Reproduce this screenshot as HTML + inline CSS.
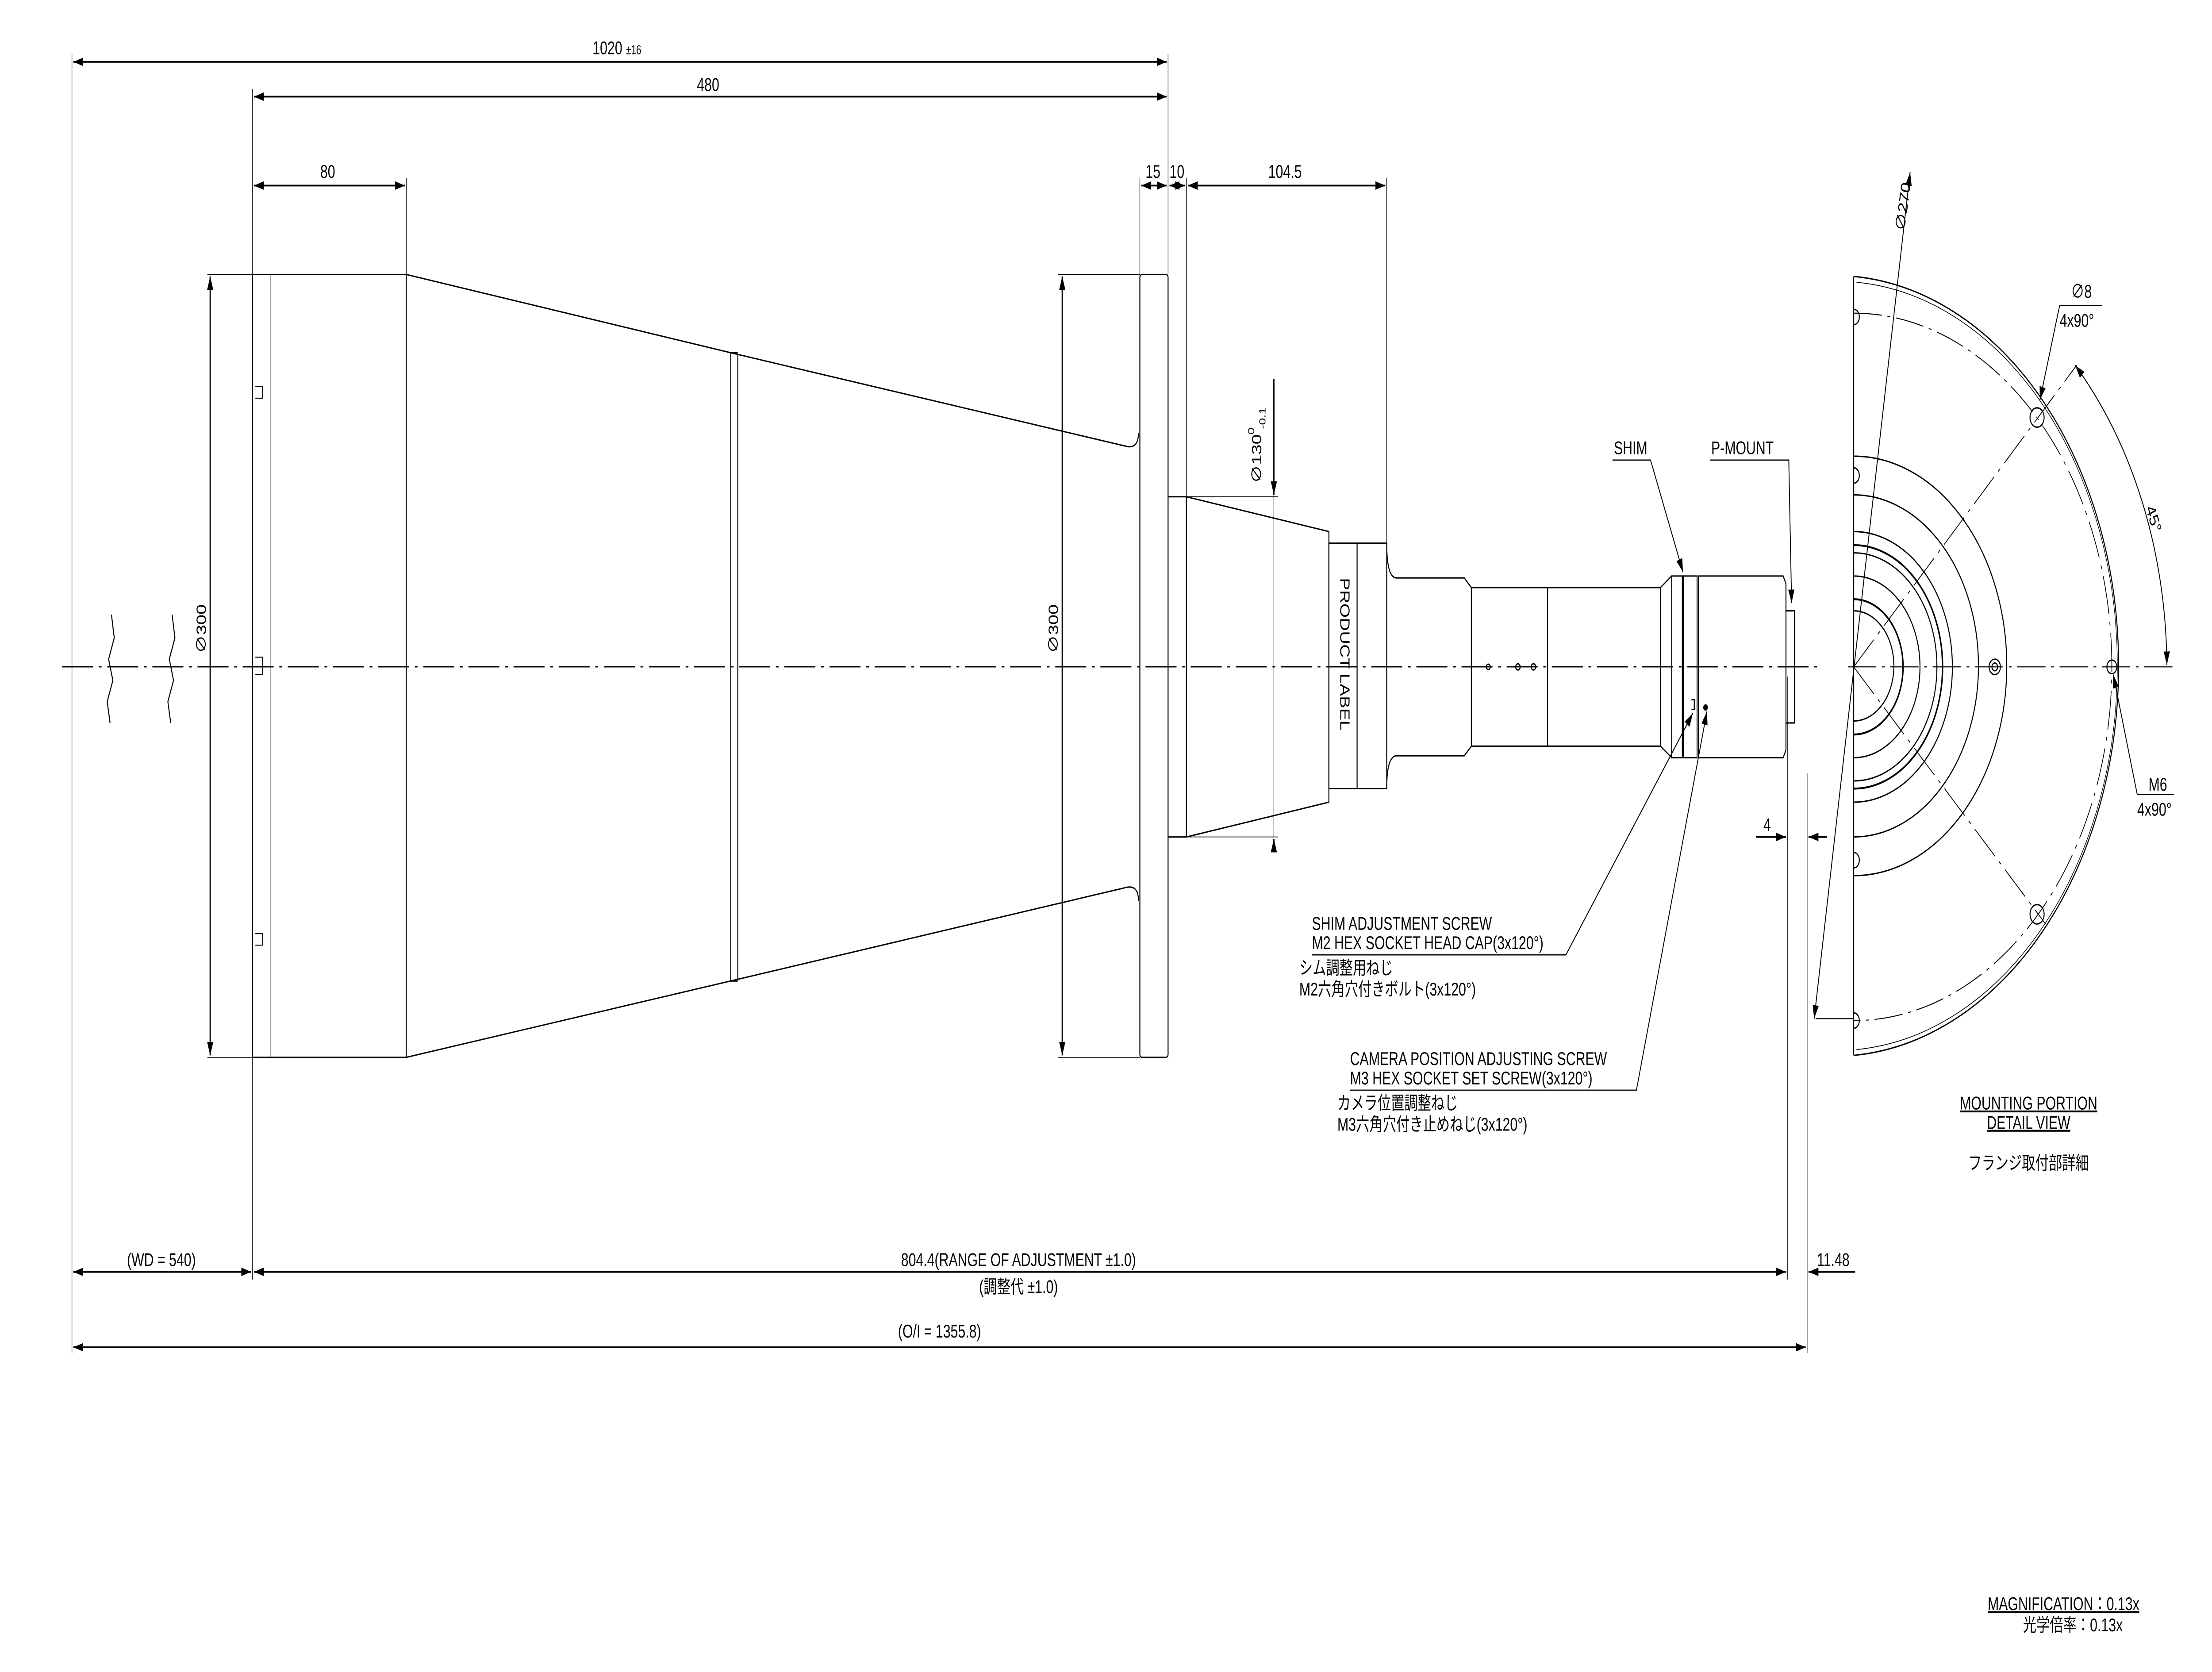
<!DOCTYPE html>
<html><head><meta charset="utf-8"><style>
html,body{margin:0;padding:0;background:#fff;width:100%;height:100%;overflow:hidden;}
svg{display:block;width:100vw;height:100vh;}
text{font-family:"Liberation Sans","Noto Sans CJK JP",sans-serif;fill:#000;}
</style></head><body>
<svg viewBox="0 0 1568 865" preserveAspectRatio="none" xmlns="http://www.w3.org/2000/svg">
<defs>
<marker id="a" markerUnits="userSpaceOnUse" markerWidth="8" markerHeight="6" refX="7" refY="3" orient="auto-start-reverse"><path d="M0,0.8 L7,3 L0,5.2 Z" fill="#000"/></marker>
</defs>
<rect width="1568" height="865" fill="#fff"/>
<g fill="none" stroke="#000" stroke-width="0.7">
<path d="M44,345 H1290" stroke-dasharray="22,4,2,4" stroke-width="0.6"/>
<path d="M79,318 L81,330 L77,341 L80,352 L76,363 L78,374"/>
<path d="M122,318 L124,330 L120,341 L123,352 L119,363 L121,374"/>
<path d="M179,142 H288 V547 H179 Z"/>
<path d="M192,142 V547" stroke-width="0.4"/>
<path d="M181,200 h5 v6 h-5 M181,340 h5 v9 h-5 M181,483 h5 v6 h-5" stroke-width="0.5"/>
<path d="M288,142 L518,182.5 L799,231 Q807,232 807,224 M288,547 L518,507.5 L799,459 Q807,458 807,466"/>
<path d="M518,182.5 V507.5 M523,183.5 V506.5 M518,182.5 H523 M518,507.5 H523"/>
<rect x="808" y="142" width="20" height="405" rx="1.5"/>
<path d="M828,257 H841 V433 H828"/>
<path d="M841,257 L942,275 V415 L841,433"/>
<path d="M942,281 H983 V408 H942 Z M962,281 V408"/>
<path d="M983,281 Q983,299 990,299 H1038 L1043,304 V386 L1038,391 H990 Q983,391 983,408"/>
<path d="M1043,304 H1177 V386 H1043 M1097,304 V386"/>
<path d="M1177,304 L1185,298 V392 L1177,386 M1185,298 H1203 V392 H1185"/>
<path d="M1193,298 V392" stroke-width="1.6"/>
<path d="M1204,298 H1264 L1266,302 V388 L1264,392 H1204 Z"/>
<path d="M1266,316 H1272 V374 H1266"/>
<circle cx="1055" cy="345" r="1.4"/><circle cx="1076" cy="345" r="1.6"/><circle cx="1087" cy="345" r="1.6"/>
<circle cx="1209" cy="366" r="1.3" fill="#000"/>
<path d="M1199,362 h2 v5 h-2"/>
<g stroke-width="0.4">
<path d="M51,28 V700 M179,46 V662 M288,92 V142 M828,28 V142 M808,92 V142 M841,92 V257 M983,92 V281"/>
<path d="M147,142 H179 M147,547 H179 M750,142 H808 M750,547 H808 M841,257 H906 M841,433 H906"/>
<path d="M1267,350 V662 M1281,400 V700"/>
</g>
<g stroke-width="0.9">
<path d="M52,32 H827" marker-start="url(#a)" marker-end="url(#a)"/>
<path d="M180,50 H827" marker-start="url(#a)" marker-end="url(#a)"/>
<path d="M180,96 H287" marker-start="url(#a)" marker-end="url(#a)"/>
<path d="M809,96 H827" marker-start="url(#a)" marker-end="url(#a)"/>
<path d="M829,96 H840" marker-start="url(#a)" marker-end="url(#a)"/>
<path d="M842,96 H982" marker-start="url(#a)" marker-end="url(#a)"/>
<path d="M149,143 V546" marker-start="url(#a)" marker-end="url(#a)"/>
<path d="M753,143 V546" marker-start="url(#a)" marker-end="url(#a)"/>
<path d="M903,196 V256" marker-end="url(#a)"/>
<path d="M903,433 V256" stroke-width="0.4"/>
<path d="M903,440 V434" marker-end="url(#a)"/>
<path d="M52,658 H178" marker-start="url(#a)" marker-end="url(#a)"/>
<path d="M180,658 H1266" marker-start="url(#a)" marker-end="url(#a)"/>
<path d="M1315,658 H1282" marker-end="url(#a)"/>
<path d="M52,697 H1280" marker-start="url(#a)" marker-end="url(#a)"/>
<path d="M1245,433 H1266" marker-end="url(#a)"/>
<path d="M1295,433 H1282" marker-end="url(#a)"/>
</g>
<g stroke-width="0.6">
<path d="M1143,238 H1170 L1193,296" marker-end="url(#a)"/>
<path d="M1212,238 H1268 L1270,312" marker-end="url(#a)"/>
<path d="M930,494 H1110 L1200,369" marker-end="url(#a)"/>
<path d="M957,564 H1160 L1210,368" marker-end="url(#a)"/>
</g>
<g stroke-width="0.7">
<path d="M1314,143 V546"/>
<path d="M1314,143 A202,202 0 0 1 1314,546"/>
<path d="M1316,146 A199,199 0 0 1 1316,543" stroke-width="0.4"/>
<path d="M1314,162 A183,183 0 0 1 1314,528" stroke-dasharray="20,4,2,4" stroke-width="0.5"/>
<path d="M1314,236 A108,108 0 0 1 1314,453"/>
<path d="M1314,256 A88,88 0 0 1 1314,433"/>
<path d="M1314,275 A70,70 0 0 1 1314,415"/>
<path d="M1314,282 A63,63 0 0 1 1314,408" stroke-width="1"/>
<path d="M1314,286 A59,59 0 0 1 1314,404"/>
<path d="M1314,298 A47,47 0 0 1 1314,392"/>
<path d="M1314,310 A34,34 0 0 1 1314,380" stroke-width="1"/>
<path d="M1314,316 A28,28 0 0 1 1314,373"/>
<circle cx="1444" cy="216" r="5"/><circle cx="1444" cy="473" r="5"/>
<circle cx="1497" cy="345" r="3.5"/>
<circle cx="1414" cy="345" r="4"/><circle cx="1414" cy="345" r="2"/>
<path d="M1314,160 a4,4 0 0 1 0,8 M1314,242 a4,4 0 0 1 0,8 M1314,441 a4,4 0 0 1 0,8 M1314,524 a4,4 0 0 1 0,8"/>
<path d="M1310,345 H1540 M1314,345 L1472,189 M1314,345 L1450,478" stroke-dasharray="20,4,2,4" stroke-width="0.5"/>
<path d="M1354,89 L1286,527" marker-start="url(#a)" marker-end="url(#a)" stroke-width="0.6"/>
<path d="M1287,527 H1314" stroke-width="0.5"/>
<path d="M1471,189 A222,222 0 0 1 1536,344" marker-start="url(#a)" marker-end="url(#a)" stroke-width="0.6"/>
<path d="M1460,158 H1490 M1460,158 L1446,207" marker-end="url(#a)" stroke-width="0.6"/>
<path d="M1541,411 H1515 L1498,349" marker-end="url(#a)" stroke-width="0.6"/>
</g>
</g>
<g font-size="9.5">
<text x="420" y="28">1020 <tspan font-size="6.5">±16</tspan></text>
<text x="494" y="47">480</text>
<text x="227" y="92">80</text>
<text x="812" y="92">15</text>
<text x="829" y="92">10</text>
<text x="899" y="92">104.5</text>
<text transform="translate(146,338) rotate(-90)">∅300</text>
<text transform="translate(750,338) rotate(-90)">∅300</text>
<text transform="translate(894,250) rotate(-90)">∅130 <tspan font-size="6.5" dy="3">-0.1</tspan><tspan font-size="6.5" dx="-14" dy="-8">0</tspan></text>
<text transform="translate(950,299) rotate(90)" font-size="9.5">PRODUCT LABEL</text>
<text x="1144" y="235">SHIM</text>
<text x="1213" y="235">P-MOUNT</text>
<text x="1250" y="430">4</text>
<text x="930" y="481">SHIM ADJUSTMENT SCREW</text>
<text x="930" y="491">M2 HEX SOCKET HEAD CAP(3x120°)</text>
<text x="921" y="504">シム調整用ねじ</text>
<text x="921" y="515">M2六角穴付きボルト(3x120°)</text>
<text x="957" y="551">CAMERA POSITION ADJUSTING SCREW</text>
<text x="957" y="561">M3 HEX SOCKET SET SCREW(3x120°)</text>
<text x="948" y="574">カメラ位置調整ねじ</text>
<text x="948" y="585">M3六角穴付き止めねじ(3x120°)</text>
<text x="1438" y="574" text-anchor="middle" text-decoration="underline">MOUNTING PORTION</text>
<text x="1438" y="584" text-anchor="middle" text-decoration="underline">DETAIL VIEW</text>
<text x="1438" y="605" text-anchor="middle">フランジ取付部詳細</text>
<text x="90" y="655">(WD = 540)</text>
<text x="722" y="655" text-anchor="middle">804.4(RANGE OF ADJUSTMENT ±1.0)</text>
<text x="722" y="669" text-anchor="middle">(調整代 ±1.0)</text>
<text x="1288" y="655">11.48</text>
<text x="666" y="692" text-anchor="middle">(O/I = 1355.8)</text>
<text transform="translate(1350,120) rotate(-80)">∅270</text>
<text x="1468" y="154">∅8</text>
<text x="1460" y="169">4x90°</text>
<text transform="translate(1521,263) rotate(68)">45°</text>
<text x="1523" y="409">M6</text>
<text x="1515" y="422">4x90°</text>
<text x="1409" y="833" text-decoration="underline">MAGNIFICATION：0.13x</text>
<text x="1434" y="844">光学倍率：0.13x</text>
</g>
</svg>
</body></html>
